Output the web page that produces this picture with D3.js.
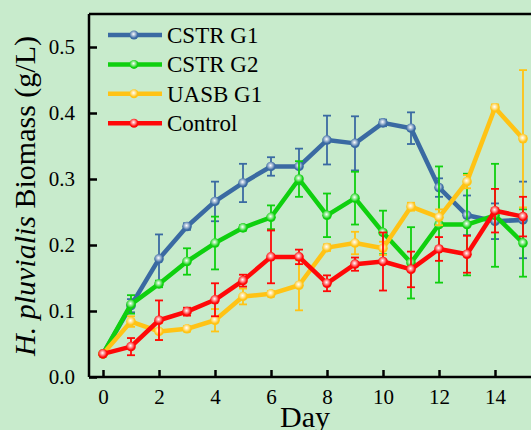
<!DOCTYPE html>
<html>
<head>
<meta charset="utf-8">
<script src="https://cdn.jsdelivr.net/npm/d3@7"></script>
<style>
  html, body { margin: 0; padding: 0; background: #c8ebcc; }
  svg { display: block; }
  text { font-family: "Liberation Serif", "Times New Roman", serif; fill: #000; }
</style>
</head>
<body>
<svg id="chart" width="531" height="430"></svg>
<script>
// data
const days = [0, 1, 2, 3, 4, 5, 6, 7, 8, 9, 10, 11, 12, 13, 14, 15];
const seriesNames = ["CSTR G1", "CSTR G2", "UASB G1", "Control"];
const seriesColors = ["#3a6aa2", "#0fd00f", "#ffc315", "#ff0808"];

const cstrG1 = [0.035, 0.108, 0.179, 0.228, 0.266, 0.294, 0.319, 0.319, 0.359, 0.354, 0.385, 0.377, 0.287, 0.245, 0.236, 0.238];
const cstrG1Err = [0, 0.010, 0.037, 0.005, 0.030, 0.029, 0.014, 0.027, 0.037, 0.041, 0.005, 0.024, 0.014, 0.030, 0.027, 0.058];

const cstrG2 = [0.035, 0.110, 0.141, 0.175, 0.203, 0.226, 0.242, 0.300, 0.245, 0.271, 0.219, 0.173, 0.231, 0.231, 0.245, 0.203];
const cstrG2Err = [0, 0.014, 0.005, 0.020, 0.040, 0.004, 0.018, 0.027, 0.033, 0.040, 0.033, 0.054, 0.088, 0.077, 0.078, 0.051];

const uasbG1 = [0.035, 0.084, 0.069, 0.073, 0.086, 0.122, 0.126, 0.139, 0.196, 0.203, 0.195, 0.258, 0.242, 0.296, 0.408, 0.361];
const uasbG1Err = [0, 0.008, 0.013, 0.004, 0.017, 0.012, 0.004, 0.038, 0.005, 0.017, 0.010, 0.006, 0.012, 0.010, 0.005, 0.104];

const control = [0.035, 0.046, 0.086, 0.099, 0.117, 0.146, 0.182, 0.182, 0.142, 0.171, 0.175, 0.163, 0.194, 0.186, 0.252, 0.243];
const controlErr = [0, 0.013, 0.030, 0.006, 0.025, 0.009, 0.040, 0.011, 0.012, 0.010, 0.044, 0.027, 0.018, 0.028, 0.033, 0.030];

const xTicks = [0, 2, 4, 6, 8, 10, 12, 14];
const yTicks = [0.0, 0.1, 0.2, 0.3, 0.4, 0.5];

const series = [
  { name: seriesNames[0], color: seriesColors[0], values: cstrG1, errors: cstrG1Err },
  { name: seriesNames[1], color: seriesColors[1], values: cstrG2, errors: cstrG2Err },
  { name: seriesNames[2], color: seriesColors[2], values: uasbG1, errors: uasbG1Err },
  { name: seriesNames[3], color: seriesColors[3], values: control, errors: controlErr }
];

const svg = d3.select("#chart");

const plotLeft = 89, plotTop = 14, plotBottom = 377;

var x = d3.scaleLinear().domain([-0.5, 15.5]).range([plotLeft, plotLeft + 448]);
var y = d3.scaleLinear().domain([0, 0.55]).range([plotBottom, plotTop]);

// background
svg.append("rect")
    .attr("width", 531)
    .attr("height", 430)
    .attr("fill", "#c8ebcc");

// gradients for the shiny markers
const defs = svg.append("defs");
series.forEach((s, i) => {
  const g = defs.append("radialGradient")
      .attr("id", "mk" + i)
      .attr("cx", "45%").attr("cy", "40%").attr("r", "60%");
  g.append("stop").attr("offset", "0%").attr("stop-color", "#ffffff");
  g.append("stop").attr("offset", "35%").attr("stop-color", d3.interpolateRgb("#ffffff", s.color)(0.45));
  g.append("stop").attr("offset", "75%").attr("stop-color", s.color);
});

// series
const line = d3.line()
    .x((d, i) => x(days[i]))
    .y(d => y(d));

series.forEach((s, i) => {
  const g = svg.append("g").attr("class", "series");

  // error bars
  const eb = g.selectAll("g.err")
      .data(s.values.map((v, j) => ({ day: days[j], v: v, e: s.errors[j] })).filter(d => d.e > 0))
      .enter().append("g")
      .attr("class", "err")
      .attr("stroke", s.color)
      .attr("stroke-width", 1.8);
  eb.append("line")
      .attr("x1", d => x(d.day)).attr("x2", d => x(d.day))
      .attr("y1", d => y(d.v - d.e)).attr("y2", d => y(d.v + d.e));
  eb.append("line")
      .attr("x1", d => x(d.day) - 4).attr("x2", d => x(d.day) + 4)
      .attr("y1", d => y(d.v + d.e)).attr("y2", d => y(d.v + d.e));
  eb.append("line")
      .attr("x1", d => x(d.day) - 4).attr("x2", d => x(d.day) + 4)
      .attr("y1", d => y(d.v - d.e)).attr("y2", d => y(d.v - d.e));

  g.append("path")
      .datum(s.values)
      .attr("d", line)
      .attr("fill", "none")
      .attr("stroke", s.color)
      .attr("stroke-width", 4.5)
      .attr("stroke-linejoin", "round");

  g.selectAll("circle")
      .data(s.values)
      .enter().append("circle")
      .attr("cx", (d, j) => x(days[j]))
      .attr("cy", d => y(d))
      .attr("r", 4.8)
      .attr("fill", "url(#mk" + i + ")");
});

// frame
svg.append("line")
    .attr("x1", plotLeft).attr("x2", 531)
    .attr("y1", plotTop).attr("y2", plotTop)
    .attr("stroke", "#000").attr("stroke-width", 2.5);

// axes
const yAxis = svg.append("g")
    .attr("transform", `translate(${plotLeft},0)`)
    .call(d3.axisLeft(y).tickValues(yTicks).tickFormat(d3.format(".1f")).tickSizeInner(-8).tickSizeOuter(0).tickPadding(14));
yAxis.select(".domain").attr("stroke-width", 2.5).attr("d", `M0,${plotTop}V${plotBottom}`);
yAxis.selectAll(".tick line").attr("stroke-width", 2.5);
yAxis.selectAll(".tick text")
    .attr("font-family", "Liberation Serif, serif")
    .attr("font-size", 21);

const xAxis = svg.append("g")
    .attr("transform", `translate(0,${plotBottom})`)
    .call(d3.axisBottom(x).tickValues(xTicks).tickFormat(d3.format("d")).tickSizeInner(-7).tickSizeOuter(0).tickPadding(12));
xAxis.select(".domain").attr("stroke-width", 2.5).attr("d", `M${plotLeft},0H531`);
xAxis.selectAll(".tick line").attr("stroke-width", 2.5);
xAxis.selectAll(".tick text")
    .attr("font-family", "Liberation Serif, serif")
    .attr("font-size", 21);

// axis titles
svg.append("text")
    .attr("x", 305)
    .attr("y", 427)
    .attr("text-anchor", "middle")
    .attr("font-size", 30)
    .text("Day");

const yTitle = svg.append("text")
    .attr("transform", "translate(35,196) rotate(-90)")
    .attr("text-anchor", "middle")
    .attr("font-size", 30);
yTitle.append("tspan").attr("font-style", "italic").text("H. pluvialis");
yTitle.append("tspan").text(" Biomass (g/L)");

// legend
const legend = svg.append("g").attr("class", "legend");
series.forEach((s, i) => {
  const ly = 35 + i * 29.4;
  legend.append("line")
      .attr("x1", 108).attr("x2", 162)
      .attr("y1", ly).attr("y2", ly)
      .attr("stroke", s.color).attr("stroke-width", 4.5);
  legend.append("circle")
      .attr("cx", 134).attr("cy", ly).attr("r", 4.5)
      .attr("fill", "url(#mk" + i + ")");
  legend.append("text")
      .attr("x", 167).attr("y", ly)
      .attr("dy", "0.35em")
      .attr("font-size", 23)
      .text(s.name);
});
</script>
</body>
</html>
